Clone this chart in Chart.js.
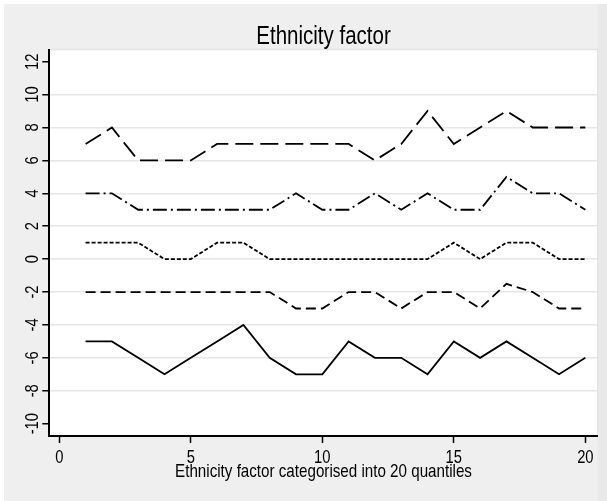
<!DOCTYPE html>
<html>
<head>
<meta charset="utf-8">
<script src="https://cdn.jsdelivr.net/npm/chart.js@4.4.1/dist/chart.umd.min.js"></script>
<style>
    html, body { margin: 0; padding: 0; background: #fff; }
    #wrap { width: 607px; height: 501px; }
</style>
</head>
<body>
<div id="wrap"><canvas id="EthnicityChart" width="607" height="501"></canvas></div>
<script>
const quantiles = [1, 2, 3, 4, 5, 6, 7, 8, 9, 10, 11, 12, 13, 14, 15, 16, 17, 18, 19, 20];
const longDash = [7, 8, 6, 6, 6, 7, 7, 7, 7, 7, 7, 6, 7, 9, 7, 8, 9, 8, 8, 8];
const dashDot = [4, 4, 3, 3, 3, 3, 3, 3, 4, 3, 3, 4, 3, 4, 3, 3, 5, 4, 4, 3];
const shortDash = [1, 1, 1, 0, 0, 1, 1, 0, 0, 0, 0, 0, 0, 0, 1, 0, 1, 1, 0, 0];
const dashed = [-2, -2, -2, -2, -2, -2, -2, -2, -3, -3, -2, -2, -3, -2, -2, -3, -1.5, -2, -3, -3];
const solid = [-5, -5, -6, -7, -6, -5, -4, -6, -7, -7, -5, -6, -6, -7, -5, -6, -5, -6, -7, -6];
const xTickValues = [0, 5, 10, 15, 20];
const yTickValues = [-10, -8, -6, -4, -2, 0, 2, 4, 6, 8, 10, 12];

const chartTitle = 'Ethnicity factor';
const xTitle = 'Ethnicity factor categorised into 20 quantiles';
const FONT = '"Liberation Sans", Arial, sans-serif';
const SQUEEZE = 0.82; // the stata text is narrow

const toPoints = (vals) => vals.map((v, i) => ({ x: quantiles[i], y: v }));

const line = (vals, dash) => ({
    data: toPoints(vals),
    borderColor: '#000',
    borderWidth: 1.8,
    borderDash: dash,
    pointRadius: 0,
    tension: 0,
    fill: false
});

// draws narrow text centred on (x, y), optionally turned
function narrowText(c, txt, x, y, size, angle) {
    c.save();
    c.translate(x, y);
    if (angle) c.rotate(angle);
    c.scale(SQUEEZE, 1);
    c.font = size + 'px ' + FONT;
    c.textAlign = 'center';
    c.textBaseline = 'alphabetic';
    c.fillStyle = '#000';
    c.fillText(txt, 0, 0);
    c.restore();
}

// background, plot region and all the texts
const frame = {
    id: 'frame',
    beforeDraw(chart) {
        const c = chart.ctx;
        const a = chart.chartArea;
        c.save();
        c.fillStyle = '#ffffff';
        c.fillRect(0, 0, chart.width, chart.height);
        c.fillStyle = '#efefef';
        c.fillRect(4, 4, chart.width - 4, chart.height - 4);
        c.fillStyle = '#e9e9e9';
        c.fillRect(a.right, 4, chart.width - a.right, chart.height - 4);
        c.fillStyle = '#ffffff';
        c.fillRect(a.left, a.top, a.right - a.left, a.bottom - a.top);
        c.strokeStyle = '#e4e4e4';
        c.lineWidth = 1.5;
        c.strokeRect(a.left, a.top, a.right - a.left, a.bottom - a.top);
        c.restore();
    },
    afterDraw(chart) {
        const c = chart.ctx;
        const a = chart.chartArea;
        const xScale = chart.scales.x;
        const yScale = chart.scales.y;
        const mid = (a.left + a.right) / 2;
        narrowText(c, chartTitle, mid, 44, 25, 0);
        narrowText(c, xTitle, mid, 476.5, 18.5, 0);
        xScale.ticks.forEach((t) => {
            narrowText(c, String(t.value), xScale.getPixelForValue(t.value), 462.5, 18, 0);
        });
        yScale.ticks.forEach((t) => {
            narrowText(c, String(t.value), 37.5, yScale.getPixelForValue(t.value), 18, -Math.PI / 2);
        });
    }
};

new Chart(document.getElementById('EthnicityChart'), {
    type: 'line',
    data: {
        datasets: [
            line(longDash, [18, 7]),
            line(dashDot, [14, 4, 2, 4]),
            line(shortDash, [4, 2]),
            line(dashed, [10, 5]),
            line(solid, [])
        ]
    },
    options: {
        responsive: false,
        animation: false,
        events: [],
        layout: { padding: { top: 49.5, right: 9.3, bottom: 0, left: 0 } },
        plugins: {
            legend: { display: false },
            tooltip: { enabled: false }
        },
        scales: {
            x: {
                type: 'linear',
                min: -0.38,
                max: 20.47,
                afterBuildTicks: (scale) => { scale.ticks = xTickValues.map(v => ({ value: v })); },
                afterFit: (scale) => { scale.height = 65; },
                grid: {
                    drawOnChartArea: false,
                    drawTicks: true,
                    tickLength: 7,
                    tickWidth: 1.5,
                    tickColor: '#000'
                },
                border: { display: true, color: '#000', width: 2 },
                ticks: { display: false }
            },
            y: {
                type: 'linear',
                min: -10.75,
                max: 12.74,
                afterBuildTicks: (scale) => { scale.ticks = yTickValues.map(v => ({ value: v })); },
                afterFit: (scale) => { scale.width = 49.3; },
                grid: {
                    color: (ctx) => (ctx.tick && (ctx.tick.value === -10 || ctx.tick.value === 12)) ? 'rgba(0,0,0,0)' : '#e6e6e6',
                    lineWidth: 1.5,
                    drawTicks: true,
                    tickLength: 7,
                    tickWidth: 1.5,
                    tickColor: '#000'
                },
                border: { display: true, color: '#000', width: 2 },
                ticks: { display: false }
            }
        }
    },
    plugins: [frame]
});
</script>
</body>
</html>
